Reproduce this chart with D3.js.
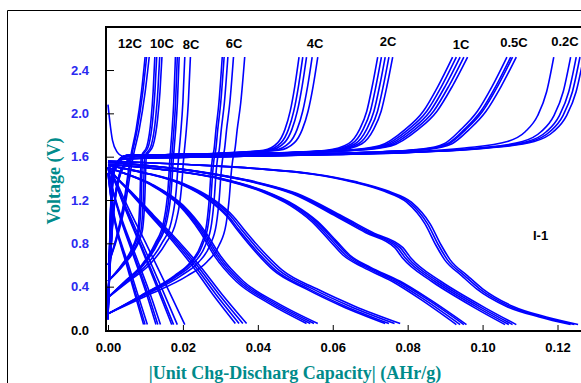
<!DOCTYPE html>
<html><head><meta charset="utf-8">
<script src="https://cdn.jsdelivr.net/npm/d3@7"></script>
<style>
html,body{margin:0;padding:0;background:#fff;}
svg{display:block;}
</style></head>
<body>
<svg id="c" width="581" height="383"></svg>
<script>
// ---------- data ----------
const rateLabels = ["12C","10C","8C","6C","4C","2C","1C","0.5C","0.2C"];
const xTicks = [0, 0.02, 0.04, 0.06, 0.08, 0.10, 0.12];
const yTicks = [0, 0.4, 0.8, 1.2, 1.6, 2.0, 2.4];

// charge base curves [capacity AHr/g, voltage V]
const charge02 = [[0,0.1],[0.0012,1.45],[0.004,1.58],[0.03,1.6],[0.06,1.62],[0.08,1.64],[0.1,1.68],[0.112,1.74],[0.117,1.83],[0.1205,1.98],[0.123,2.2],[0.125,2.52]];
const charge05 = [[0,0.1],[0.0015,1.5],[0.005,1.6],[0.04,1.62],[0.07,1.64],[0.085,1.67],[0.091,1.72],[0.0955,1.85],[0.1,2.02],[0.104,2.25],[0.108,2.52]];
const charge1  = [[0,0.15],[0.0015,1.5],[0.005,1.61],[0.04,1.63],[0.065,1.66],[0.074,1.7],[0.081,1.85],[0.086,2.02],[0.09,2.25],[0.094,2.52]];
const charge2  = [[0,0.2],[0.0015,1.45],[0.005,1.61],[0.04,1.63],[0.06,1.66],[0.066,1.72],[0.069,1.85],[0.071,2.02],[0.0725,2.25],[0.074,2.52]];
const charge4  = [[0,0.2],[0.0015,1.1],[0.004,1.5],[0.008,1.61],[0.03,1.63],[0.044,1.66],[0.048,1.73],[0.05,1.85],[0.0515,2.02],[0.0528,2.25],[0.054,2.52]];
const charge6  = [[0,0.15],[0.01,0.32],[0.02,0.5],[0.025,0.63],[0.028,0.78],[0.0298,0.98],[0.0306,1.22],[0.0311,1.45],[0.0316,1.6],[0.032,1.66],[0.0326,1.85],[0.0335,2.1],[0.0345,2.52]];
const charge8  = [[0,0.3],[0.005,0.45],[0.01,0.6],[0.014,0.8],[0.0165,1.0],[0.0178,1.3],[0.0184,1.6],[0.0189,1.8],[0.0195,2.1],[0.02,2.52]];
const charge10 = [[0,0.45],[0.004,0.6],[0.007,0.75],[0.0088,0.92],[0.0094,1.2],[0.0098,1.6],[0.0115,1.7],[0.0127,1.95],[0.0133,2.2],[0.0138,2.52]];
const charge12 = [[0,0.6],[0.0025,0.88],[0.0045,1.2],[0.0058,1.5],[0.0064,1.62],[0.0078,1.85],[0.0093,2.2],[0.0103,2.52]];

// discharge base curves
const dis02 = [[0,1.56],[0.02,1.53],[0.04,1.49],[0.055,1.44],[0.066,1.37],[0.075,1.28],[0.081,1.18],[0.086,0.98],[0.089,0.78],[0.0913,0.65],[0.096,0.5],[0.1,0.38],[0.108,0.22],[0.117,0.12],[0.1255,0.05]];
const dis05 = [[0,1.55],[0.0246,1.46],[0.04,1.36],[0.05,1.26],[0.062,1.05],[0.07,0.9],[0.078,0.76],[0.08,0.67],[0.088,0.45],[0.095,0.3],[0.1,0.2],[0.108,0.05]];
const dis1  = [[0,1.53],[0.015,1.48],[0.03,1.4],[0.042,1.28],[0.05,1.15],[0.056,1.0],[0.061,0.82],[0.0646,0.69],[0.07,0.58],[0.078,0.45],[0.086,0.28],[0.0957,0.05]];
const dis2  = [[0,1.52],[0.01,1.45],[0.02,1.35],[0.028,1.2],[0.033,1.05],[0.036,0.92],[0.041,0.72],[0.046,0.55],[0.055,0.38],[0.065,0.22],[0.077,0.06]];
const dis4  = [[0,1.5],[0.005,1.44],[0.012,1.34],[0.02,1.15],[0.026,0.9],[0.03,0.68],[0.036,0.45],[0.045,0.25],[0.0558,0.06]];
const dis6  = [[0,1.5],[0.002,1.42],[0.006,1.28],[0.012,1.06],[0.018,0.84],[0.024,0.6],[0.03,0.33],[0.0365,0.06]];
const dis8  = [[0,1.5],[0.0015,1.4],[0.004,1.18],[0.009,0.77],[0.014,0.35],[0.0175,0.05]];
const dis10 = [[0,1.5],[0.001,1.33],[0.003,1.08],[0.007,0.69],[0.011,0.3],[0.0133,0.05]];
const dis12 = [[0,1.45],[0.0008,1.22],[0.002,0.98],[0.005,0.62],[0.008,0.27],[0.0099,0.05]];
const firstDrop = [[0,2.08],[0.0005,1.92],[0.0012,1.75],[0.0025,1.64],[0.004,1.6]];

const chargeCaps = {
  c02: [0.119, 0.1235, 0.125, 0.126, 0.127],
  c05: [0.1065, 0.1075, 0.108, 0.109],
  c1:  [0.092, 0.093, 0.094, 0.095, 0.096],
  c2:  [0.072, 0.073, 0.074, 0.075, 0.076],
  c4:  [0.051, 0.052, 0.053, 0.0545, 0.056],
  c6:  [0.0305, 0.031, 0.032, 0.0335, 0.0365],
  c8:  [0.018, 0.0185, 0.019, 0.0205, 0.022],
  c10: [0.0125, 0.013, 0.0138, 0.0144],
  c12: [0.0099, 0.0103, 0.011]
};
const dischargeCaps = {
  c02: [0.1235, 0.1245, 0.1255],
  c05: [0.106, 0.107, 0.108, 0.109],
  c1:  [0.093, 0.094, 0.095, 0.0957],
  c2:  [0.074, 0.075, 0.0765, 0.078],
  c4:  [0.053, 0.054, 0.055, 0.056],
  c6:  [0.034, 0.035, 0.036, 0.037],
  c8:  [0.017, 0.0175, 0.0185, 0.0205],
  c10: [0.0128, 0.0133, 0.014],
  c12: [0.0095, 0.0099, 0.0105]
};

// ---------- drawing ----------
const svg = d3.select("#c");
const x = d3.scaleLinear().domain([0, 0.12]).range([108, 557.5]);
const y = d3.scaleLinear().domain([0, 2.8]).range([330, 26.7]);

svg.append("defs").append("clipPath").attr("id","clip")
  .append("rect").attr("x",107).attr("y",27).attr("width",480).attr("height",303);

// outer frame
svg.append("line").attr("x1",7.5).attr("x2",7.5).attr("y1",10.5).attr("y2",383).attr("stroke","#000");
svg.append("line").attr("x1",7.5).attr("x2",581).attr("y1",10.5).attr("y2",10.5).attr("stroke","#000");

const line = d3.line().x(d=>x(d[0])).y(d=>y(d[1])).curve(d3.curveMonotoneX);
const g = svg.append("g").attr("clip-path","url(#clip)");

function drawSet(base, caps){
  const end = base[base.length-1][0];
  caps.forEach(c=>{
    const pts = base.map(p=>[p[0]*c/end, p[1]]);
    g.append("path").attr("d", line(pts)).attr("fill","none")
     .attr("stroke","#0000ff").attr("stroke-width",1.6);
  });
}
drawSet(charge02, chargeCaps.c02); drawSet(charge05, chargeCaps.c05);
drawSet(charge1, chargeCaps.c1);   drawSet(charge2, chargeCaps.c2);
drawSet(charge4, chargeCaps.c4);   drawSet(charge6, chargeCaps.c6);
drawSet(charge8, chargeCaps.c8);   drawSet(charge10, chargeCaps.c10);
drawSet(charge12, chargeCaps.c12);
drawSet(dis02, dischargeCaps.c02); drawSet(dis05, dischargeCaps.c05);
drawSet(dis1, dischargeCaps.c1);   drawSet(dis2, dischargeCaps.c2);
drawSet(dis4, dischargeCaps.c4);   drawSet(dis6, dischargeCaps.c6);
drawSet(dis8, dischargeCaps.c8);   drawSet(dis10, dischargeCaps.c10);
drawSet(dis12, dischargeCaps.c12);
g.append("path").attr("d", line(firstDrop)).attr("fill","none").attr("stroke","#0000ff").attr("stroke-width",1.6);

// axes
const xAxis = d3.axisBottom(x).tickValues(xTicks).tickFormat(d3.format(".2f")).tickSizeInner(-6).tickSizeOuter(0).tickPadding(12);
const gx = svg.append("g").attr("transform","translate(0,331)").call(xAxis);
gx.select(".domain").remove();
gx.selectAll("line").attr("stroke","#000");
gx.selectAll("text").attr("font-family","Arial, 'Liberation Sans', sans-serif").attr("font-weight","bold").attr("font-size",13).attr("fill","#000");

const yAxis = d3.axisLeft(y).tickValues(yTicks).tickFormat(d3.format(".1f")).tickSizeInner(-8).tickSizeOuter(0).tickPadding(17);
const gy = svg.append("g").attr("transform","translate(106,0)").call(yAxis);
gy.select(".domain").remove();
gy.selectAll("line").attr("stroke","#000");
gy.selectAll("text").attr("font-family","Arial, 'Liberation Sans', sans-serif").attr("font-weight","bold").attr("font-size",13)
  .attr("fill", d => d === 0 ? "#000" : "#2a2af0");

// plot frame
svg.append("line").attr("x1",106).attr("x2",581).attr("y1",27).attr("y2",27).attr("stroke","#000").attr("stroke-width",2);
svg.append("line").attr("x1",106).attr("x2",106).attr("y1",26).attr("y2",332).attr("stroke","#000").attr("stroke-width",2);
svg.append("line").attr("x1",105).attr("x2",581).attr("y1",331).attr("y2",331).attr("stroke","#000").attr("stroke-width",2);

// rate labels
const labelPos = [[130,48],[162,48],[191,49],[234,48],[315,48],[388,46],[461,49],[514,47],[565,46]];
svg.append("g").selectAll("text").data(rateLabels).join("text")
  .attr("x",(d,i)=>labelPos[i][0]).attr("y",(d,i)=>labelPos[i][1])
  .attr("text-anchor","middle").attr("font-family","Arial, 'Liberation Sans', sans-serif")
  .attr("font-weight","bold").attr("font-size",13).attr("fill","#000").text(d=>d);

svg.append("text").attr("x",533).attr("y",240).attr("font-family","Arial, 'Liberation Sans', sans-serif")
  .attr("font-weight","bold").attr("font-size",13).text("I-1");

// axis titles
svg.append("text").attr("transform","translate(60,181) rotate(-90)").attr("text-anchor","middle")
  .attr("font-family","'Liberation Serif', 'Times New Roman', serif").attr("font-weight","bold")
  .attr("font-size",18).attr("fill","#008b8b").text("Voltage (V)");
svg.append("text").attr("x",295).attr("y",379).attr("text-anchor","middle")
  .attr("font-family","'Liberation Serif', 'Times New Roman', serif").attr("font-weight","bold")
  .attr("font-size",18).attr("fill","#008b8b").text("|Unit Chg-Discharg Capacity| (AHr/g)");
</script>
</body></html>
